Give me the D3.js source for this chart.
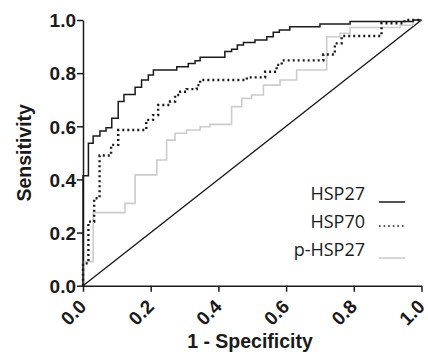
<!DOCTYPE html>
<html>
<head>
<meta charset="utf-8">
<script src="https://cdn.jsdelivr.net/npm/d3@7"></script>
<style>
  body { margin: 0; background: #fff; }
  svg { display: block; }
  .axis path, .axis line { stroke: #1a1a1a; stroke-width: 1.5; }
  .axis text { font-family: "Liberation Sans", Arial, sans-serif; font-weight: bold; font-size: 19px; fill: #1a1a1a; }
  .title { font-family: "Liberation Sans", Arial, sans-serif; font-weight: bold; font-size: 19.5px; fill: #1a1a1a; }
  .legend text { font-family: "Open Sans", sans-serif; font-size: 18px; fill: #1a1a1a; }
</style>
</head>
<body>
<div id="chart"></div>
<script>
// ROC curves: [1 - specificity, sensitivity]
var hsp27 = [[0,0],[0,0.414],[0.016,0.536],[0.030,0.563],[0.050,0.582],[0.068,0.594],[0.085,0.630],
    [0.104,0.693],[0.121,0.720],[0.154,0.747],[0.173,0.774],[0.193,0.793],[0.208,0.812],[0.277,0.824],
    [0.311,0.836],[0.331,0.847],[0.346,0.860],[0.419,0.881],[0.439,0.890],[0.456,0.906],[0.474,0.915],
    [0.508,0.925],[0.543,0.937],[0.562,0.954],[0.580,0.962],[0.611,0.975],[0.700,0.985],[0.789,0.994],
    [0.975,1.0],[1,1]];

var hsp70 = [[0,0],[0,0.084],[0.016,0.241],[0.033,0.329],[0.049,0.490],[0.083,0.530],[0.104,0.586],
    [0.187,0.624],[0.207,0.642],[0.222,0.680],[0.257,0.693],[0.272,0.718],[0.287,0.730],[0.306,0.740],
    [0.336,0.755],[0.346,0.774],[0.484,0.784],[0.538,0.805],[0.572,0.831],[0.587,0.848],[0.710,0.870],
    [0.744,0.912],[0.764,0.940],[0.882,0.988],[0.950,1.0],[1,1]];

var pHsp27 = [[0,0],[0,0.09],[0.030,0.275],[0.124,0.310],[0.154,0.417],[0.218,0.473],[0.247,0.548],
    [0.272,0.574],[0.306,0.586],[0.346,0.598],[0.375,0.607],[0.439,0.674],[0.469,0.705],[0.498,0.718],
    [0.533,0.755],[0.582,0.774],[0.631,0.812],[0.720,0.937],[0.759,0.950],[0.789,0.972],[0.937,0.980],
    [0.975,1.0],[1,1]];

var reference = [[0,0],[1,1]];
var ticks = [0, 0.2, 0.4, 0.6, 0.8, 1.0];
var seriesNames = ['HSP27', 'HSP70', 'p-HSP27'];

var width = 428, height = 355;
var svg = d3.select('#chart').append('svg')
    .attr('width', width)
    .attr('height', height);

var x = d3.scaleLinear().domain([0, 1]).range([83, 421.5]);
var y = d3.scaleLinear().domain([0, 1]).range([285.7, 20]);

var yAxis = d3.axisLeft(y)
    .tickValues(ticks)
    .tickFormat(d3.format('.1f'))
    .tickSize(6)
    .tickSizeOuter(0)
    .tickPadding(1);

svg.append('g')
    .attr('class', 'axis')
    .attr('transform', 'translate(' + x(0) + ',0)')
    .call(yAxis)
    .selectAll('text')
    .attr('dy', '0.36em');

var xAxis = d3.axisBottom(x)
    .tickValues(ticks)
    .tickFormat(d3.format('.1f'))
    .tickSize(6)
    .tickSizeOuter(0);

var gx = svg.append('g')
    .attr('class', 'axis')
    .attr('transform', 'translate(0,' + y(0) + ')')
    .call(xAxis);

gx.selectAll('text')
    .attr('y', 0)
    .attr('dy', 0)
    .attr('text-anchor', 'end')
    .attr('transform', 'translate(4,22) rotate(-45)');

var line = d3.line()
    .x(function(d) { return x(d[0]); })
    .y(function(d) { return y(d[1]); });

var stepLine = d3.line()
    .curve(d3.curveStepAfter)
    .x(function(d) { return x(d[0]); })
    .y(function(d) { return y(d[1]); });

svg.append('path')
    .datum(reference)
    .attr('d', line)
    .attr('fill', 'none')
    .attr('stroke', '#1a1a1a')
    .attr('stroke-width', 1.4);

svg.append('path')
    .datum(pHsp27)
    .attr('d', stepLine)
    .attr('fill', 'none')
    .attr('stroke', '#cccccc')
    .attr('stroke-width', 1.6);

svg.append('path')
    .datum(hsp70)
    .attr('d', stepLine)
    .attr('fill', 'none')
    .attr('stroke', '#1a1a1a')
    .attr('stroke-width', 2.4)
    .attr('stroke-dasharray', '2,3');

svg.append('path')
    .datum(hsp27)
    .attr('d', stepLine)
    .attr('fill', 'none')
    .attr('stroke', '#1a1a1a')
    .attr('stroke-width', 1.5);

// axis titles
svg.append('text')
    .attr('class', 'title')
    .attr('text-anchor', 'middle')
    .attr('transform', 'translate(31,' + (y(0.5)) + ') rotate(-90)')
    .text('Sensitivity');

svg.append('text')
    .attr('class', 'title')
    .attr('text-anchor', 'middle')
    .attr('x', 250)
    .attr('y', 348)
    .text('1 - Specificity');

// legend
var legendStyles = [
    { stroke: '#1a1a1a', width: 1.5, dash: null },
    { stroke: '#1a1a1a', width: 1.6, dash: '1.6,3' },
    { stroke: '#cccccc', width: 1.6, dash: null }
];

var legend = svg.append('g')
    .attr('class', 'legend')
    .selectAll('g')
    .data(seriesNames)
    .enter()
    .append('g')
    .attr('transform', function(d, i) { return 'translate(0,' + (200 + i * 28) + ')'; });

legend.append('text')
    .attr('x', 365)
    .attr('y', 0)
    .attr('text-anchor', 'end')
    .text(function(d) { return d; });

legend.append('line')
    .attr('x1', 379)
    .attr('x2', 405)
    .attr('y1', function(d, i) { return i === 1 ? -2 : 2; })
    .attr('y2', function(d, i) { return i === 1 ? -2 : 2; })
    .attr('stroke', function(d, i) { return legendStyles[i].stroke; })
    .attr('stroke-width', function(d, i) { return legendStyles[i].width; })
    .attr('stroke-dasharray', function(d, i) { return legendStyles[i].dash; });
</script>
</body>
</html>
